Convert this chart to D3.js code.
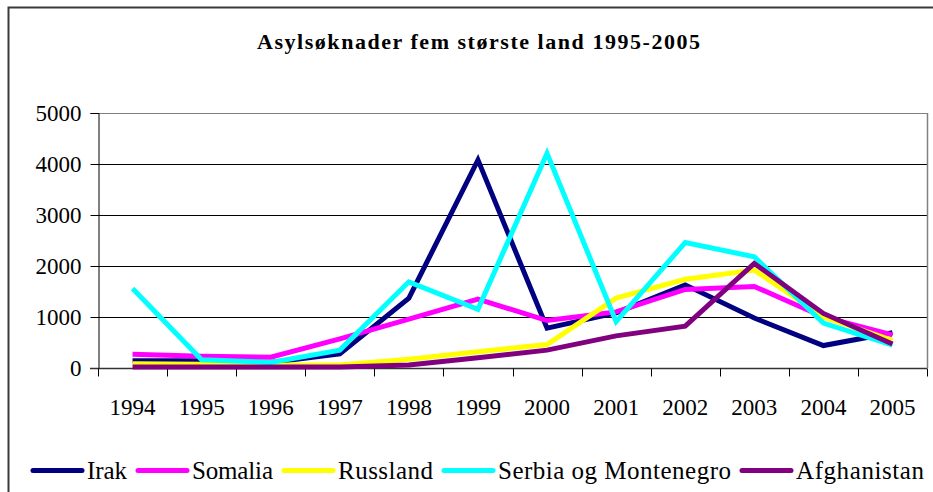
<!DOCTYPE html>
<html>
<head>
<meta charset="utf-8">
<script src="https://cdn.jsdelivr.net/npm/d3@7"></script>
</head>
<body style="margin:0;background:#fff">
<svg id="viz" width="933" height="492" style="display:block"></svg>
<script>
const title = "Asylsøknader fem største land 1995-2005";
const years = ["1994","1995","1996","1997","1998","1999","2000","2001","2002","2003","2004","2005"];
const yTicks = [0, 1000, 2000, 3000, 4000, 5000];

const irak        = [140, 140, 110, 275, 1370, 4080, 780, 1080, 1630, 980, 440, 690];
const somalia     = [270, 230, 210, 570, 960, 1350, 930, 1100, 1540, 1600, 1000, 650];
const russland    = [85, 75, 60, 60, 170, 320, 460, 1370, 1740, 1920, 1000, 540];
const serbia      = [1560, 160, 110, 350, 1690, 1150, 4210, 910, 2460, 2180, 880, 450];
const afghanistan = [20, 20, 20, 20, 60, 200, 350, 630, 820, 2050, 1070, 470];

const seriesNames  = ["Irak", "Somalia", "Russland", "Serbia og Montenegro", "Afghanistan"];
const seriesValues = [irak, somalia, russland, serbia, afghanistan];
const seriesColors = ["#000080", "#FF00FF", "#FFFF00", "#00FFFF", "#800080"];

const legendTextWidths = [40, 81, 95, 233, 128];

const FONT = "Times New Roman";
function setFont(sel, size, weight) {
  sel.style("font-family", FONT).style("font-size", size + "px");
  if (weight) sel.style("font-weight", weight);
  return sel;
}

const svg = d3.select("#viz");
svg.append("rect").attr("width", 933).attr("height", 492).attr("fill", "#fff");
svg.append("rect").attr("x", 8.5).attr("y", 7.5).attr("width", 1000).attr("height", 1000)
  .attr("fill", "none").attr("stroke", "#3a3a3a").attr("stroke-width", 2);

const L = 98, R = 927, T = 113, B = 368;
const x = d3.scaleBand().domain(years).range([L, R]);
const y = d3.scaleLinear().domain([0, 5000]).range([B, T]);

setFont(svg.append("text").attr("x", 257).attr("y", 48.5), 22, "bold")
  .attr("textLength", 443).attr("lengthAdjust", "spacing")
  .text(title);

svg.append("g").selectAll("line").data(yTicks.filter(d => d > 0)).join("line")
  .attr("x1", L).attr("x2", R).attr("y1", d => y(d) + 0.5).attr("y2", d => y(d) + 0.5)
  .attr("stroke", d => d === 5000 ? "#808080" : "#000").attr("stroke-width", 1);
svg.append("line").attr("x1", R + 0.5).attr("x2", R + 0.5).attr("y1", T).attr("y2", B)
  .attr("stroke", "#808080").attr("stroke-width", 1.5);

const yAxis = d3.axisLeft(y).tickValues(yTicks).tickSize(8).tickPadding(9).tickFormat(d3.format("d"));
const gy = svg.append("g").attr("transform", `translate(${L + 0.5},0)`).call(yAxis);
gy.attr("font-family", null).attr("font-size", null);
gy.select(".domain").attr("stroke", "#000");
gy.selectAll(".tick line").attr("stroke", "#000");
setFont(gy.selectAll(".tick text"), 23).attr("fill", "#000");

const gx = svg.append("g").attr("transform", `translate(0,${B + 0.5})`);
gx.append("line").attr("x1", L - 8).attr("x2", R).attr("y1", 0).attr("y2", 0)
  .attr("stroke", "#333").attr("stroke-width", 1.5);
const bounds = years.map(d => x(d)).concat([x(years[years.length - 1]) + x.bandwidth()]);
gx.selectAll("line.tk").data(bounds).join("line").attr("class", "tk")
  .attr("x1", d => Math.round(d) + 0.5).attr("x2", d => Math.round(d) + 0.5)
  .attr("y1", 0).attr("y2", 8).attr("stroke", "#000");
setFont(gx.selectAll("text").data(years).join("text"), 23)
  .attr("x", d => x(d) + x.bandwidth() / 2).attr("y", 414 - B)
  .attr("text-anchor", "middle").text(d => d);

const line = d3.line().x((d, i) => x(years[i]) + x.bandwidth() / 2).y(d => y(d));
svg.append("g").selectAll("path").data(seriesValues).join("path")
  .attr("d", d => line(d)).attr("fill", "none")
  .attr("stroke", (d, i) => seriesColors[i]).attr("stroke-width", 5)
  .attr("stroke-linejoin", "miter").attr("stroke-miterlimit", 3);

const lg = svg.append("g");
let cx = 33;
seriesNames.forEach((name, i) => {
  lg.append("line").attr("x1", cx).attr("x2", cx + 49).attr("y1", 470.5).attr("y2", 470.5)
    .attr("stroke", seriesColors[i]).attr("stroke-width", 5).attr("stroke-linecap", "round");
  setFont(lg.append("text").attr("x", cx + 54).attr("y", 479), 25)
    .attr("textLength", legendTextWidths[i]).attr("lengthAdjust", "spacing").text(name);
  cx += 54 + legendTextWidths[i] + 11;
});

if (document.fonts && document.fonts.load) {
  document.fonts.load('23px "Times New Roman"').then(() => {
    svg.selectAll("text").style("font-family", "Times New Roman, Liberation Serif, serif");
  }).catch(() => {});
}
</script>
</body>
</html>
